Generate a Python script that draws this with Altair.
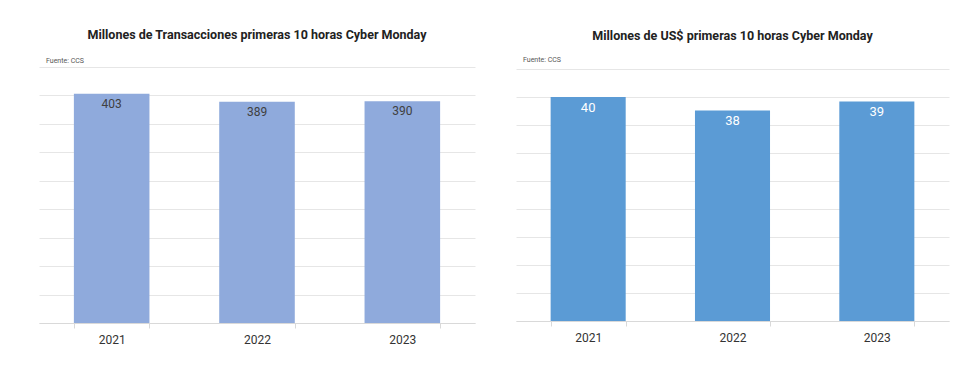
import altair as alt
import pandas as pd

years = ["2021", "2022", "2023"]
transacciones = [403, 389, 390]
usd = [40.0, 37.6, 39.2]

left_title = "Millones de Transacciones primeras 10 horas Cyber Monday"
right_title = "Millones de US$ primeras 10 horas Cyber Monday"
source_note = "Fuente: CCS"

FONT = "Roboto, Liberation Sans, sans-serif"


def panel(values, color, label_color, title, ymax, dmax, step, width, height, toffset, label_size, note_y):
    df = pd.DataFrame({"year": years, "value": values})
    base = alt.Chart(df).encode(
        x=alt.X(
            "year:N",
            scale=alt.Scale(paddingInner=0.48, paddingOuter=0.24),
            axis=alt.Axis(
                title=None, labelAngle=0, tickBand="extent", domainColor="#d9d9d9",
                tickColor="#d9d9d9", tickSize=5, labelFontSize=12, labelColor="#333333",
                labelPadding=6, grid=False, labelFont=FONT,
            ),
        ),
        y=alt.Y(
            "value:Q",
            scale=alt.Scale(domain=[0, dmax], nice=False),
            axis=alt.Axis(
                title=None, labels=False, ticks=False, domain=False, grid=True,
                gridColor="#e6e6e6", values=list(range(0, ymax + 1, step)),
            ),
        ),
    )
    bars = base.mark_bar(color=color)
    text = base.mark_text(
        baseline="top", dy=5, color=label_color, fontSize=label_size, font=FONT
    ).encode(text=alt.Text("value:Q", format=".0f"))
    note = alt.Chart(pd.DataFrame({"t": [source_note]})).mark_text(
        align="left", baseline="bottom", fontSize=7, color="#555555", font=FONT
    ).encode(x=alt.value(7), y=alt.value(note_y), text="t:N")
    return alt.layer(bars, text, note).properties(
        width=width, height=height,
        title=alt.TitleParams(
            title, fontSize=12.5, fontWeight="bold", font=FONT, color="#222222",
            offset=toffset, anchor="middle",
        ),
    )


left = panel(transacciones, "#8faadc", "#404040", left_title, 450, 450, 50, 436, 256, 16, 12, -3)
right = panel(usd, "#5b9bd5", "#ffffff", right_title, 45, 45.36, 5, 433, 254, 14, 13, -4)

chart = alt.hconcat(left, right, spacing=41).properties(
    padding={"left": 31, "top": 20, "right": 5, "bottom": 5}
).configure(background="white").configure_view(stroke=None)

chart.save("out.html", embed_options={"renderer": "svg", "actions": False})
